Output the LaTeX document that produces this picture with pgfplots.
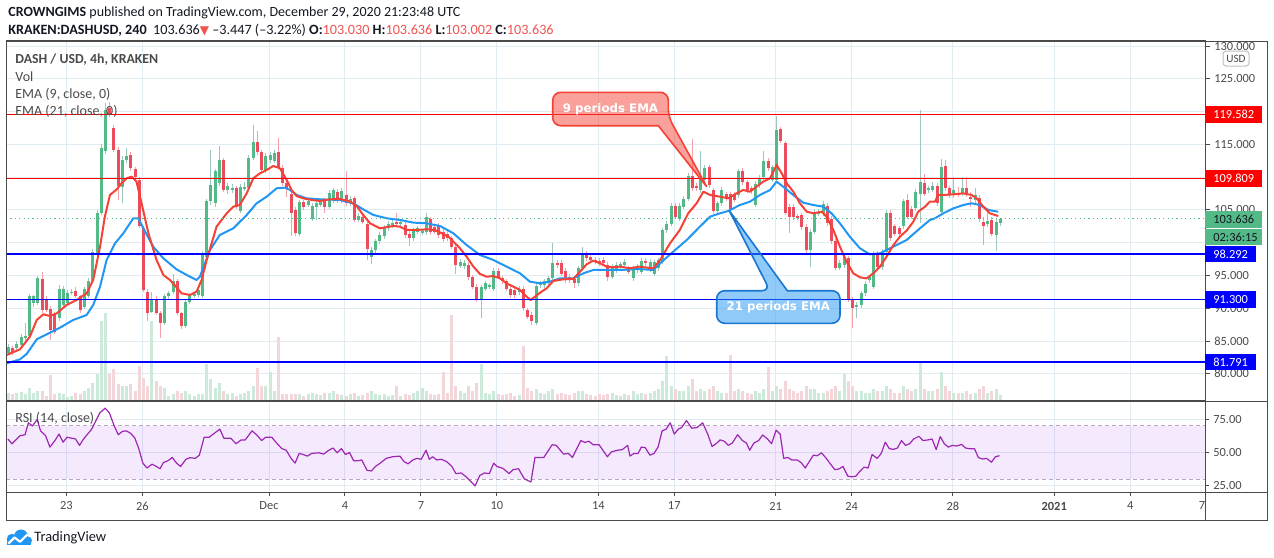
\documentclass[border=0pt]{standalone}
\usepackage{pgfplots}
\pgfplotsset{compat=1.18}
\usepackage{pgfplotstable}
\usepackage{fontspec}
\setmainfont{Carlito}
\newfontfamily\dvs{DejaVu Sans}

\definecolor{upc}{HTML}{53B987}
\definecolor{dnc}{HTML}{EB4D5C}
\definecolor{upw}{HTML}{9CC7BF}
\definecolor{dnw}{HTML}{F2A1A9}
\definecolor{volup}{HTML}{CDE9DA}
\definecolor{voldn}{HTML}{F3D6D9}
\definecolor{emared}{HTML}{F44336}
\definecolor{emablue}{HTML}{2196F3}
\definecolor{gridc}{HTML}{E1ECF2}
\definecolor{framec}{HTML}{4A4A4A}
\definecolor{txtc}{HTML}{4A4A4A}
\definecolor{headc}{HTML}{131722}
\definecolor{valred}{HTML}{EF5350}
\definecolor{rsic}{HTML}{9C27B0}
\definecolor{rsibase}{HTML}{9B27F5}
\definecolor{rsidash}{HTML}{B9A6BF}
\definecolor{tvblue}{HTML}{2196F3}
\definecolor{calblue}{HTML}{1976D2}
\definecolor{lvlred}{HTML}{FF0000}
\definecolor{lvlblue}{HTML}{0000FF}

\newcommand{\sz}[1]{\fontsize{#1}{#1}\selectfont}

% 4h candles, i = candle index (x = i/6 - 10.29 days from Dec 1), v = volume bar height
\pgfplotstableread{
i o h l c v
0 83.1 84.5 82.8 84.1 8
1 83.9 84.2 82.8 83.1 7
2 83.9 85.0 83.6 84.6 8
3 84.4 86.0 84.2 85.6 9
4 85.6 87.8 85.0 85.7 7
5 85.7 92.2 85.4 91.8 13
6 90.8 92.0 90.2 91.8 8
7 90.8 95.0 90.5 94.6 10
8 94.5 95.5 89.3 89.7 10
9 91.4 91.8 89.4 89.7 5
10 89.9 90.3 85.2 86.7 26
11 89.0 89.4 86.0 86.4 7
12 88.5 93.5 88.0 92.9 8
13 90.5 93.4 90.2 93.0 7
14 90.8 92.8 90.5 92.4 4
15 92.4 92.9 92.0 92.5 5
16 92.6 93.3 91.6 91.9 8
17 91.8 92.0 89.2 89.7 7
18 90.2 93.3 89.9 92.9 10
19 91.8 94.6 91.5 94.1 13
20 94.1 99.0 93.8 98.6 18
21 98.1 105.0 97.8 104.5 27
22 104.5 115.0 104.2 114.5 80
23 114.0 121.3 113.5 120.3 88
24 120.5 121.5 119.2 119.5 27
25 117.5 118.0 113.8 114.2 32
26 114.2 114.6 106.5 108.6 17
27 108.5 113.2 106.0 112.6 15
28 112.6 114.5 112.2 113.2 15
29 113.4 113.8 111.0 111.4 17
30 111.2 111.6 109.8 110.1 10
31 109.6 110.0 102.2 102.5 35
32 102.2 102.6 92.5 92.8 23
33 92.5 92.9 88.0 89.2 15
34 89.5 92.5 89.2 91.3 80
35 91.4 91.8 88.9 89.2 20
36 89.2 89.6 85.5 87.8 15
37 87.8 92.2 87.4 91.8 13
38 91.8 92.7 91.4 92.4 5
39 92.5 95.3 92.2 94.2 7
40 94.1 94.5 88.9 89.2 10
41 89.2 89.5 86.9 87.3 8
42 87.3 91.4 87.0 91.0 10
43 90.9 92.4 90.6 92.0 7
44 91.9 92.4 91.6 92.1 5
45 92.0 93.1 91.7 92.8 7
46 91.9 98.8 91.6 98.4 7
47 97.9 106.7 97.6 106.3 37
48 106.3 114.2 105.8 108.8 22
49 106.0 111.3 105.5 110.9 13
50 109.1 114.8 108.7 112.7 18
51 112.6 113.0 107.7 108.1 10
52 108.0 109.1 107.5 108.7 7
53 108.1 108.9 107.6 108.3 8
54 108.3 108.7 105.1 105.5 5
55 104.9 108.9 104.5 108.5 7
56 108.3 109.3 107.9 108.5 8
57 108.3 113.4 108.0 113.0 10
58 113.0 118.0 112.6 115.4 15
59 115.4 117.0 113.4 113.8 33
60 113.8 114.2 110.7 111.1 15
61 111.1 113.7 110.6 113.3 15
62 112.6 113.8 112.2 113.4 29
63 112.5 114.1 112.1 113.7 10
64 113.9 116.0 111.2 111.6 64
65 111.4 111.8 108.7 109.1 7
66 109.1 109.5 107.0 108.3 7
67 107.5 107.9 101.0 104.5 7
68 105.0 105.4 101.1 101.5 7
69 101.4 106.6 101.0 106.2 7
70 106.2 106.6 105.0 105.4 5
71 105.8 106.7 105.4 106.3 7
72 103.7 106.0 103.3 105.6 8
73 105.5 106.4 103.5 106.0 7
74 105.8 106.7 105.4 106.3 6
75 106.5 106.9 104.5 105.5 8
76 105.5 108.0 105.1 107.6 8
77 106.5 108.4 106.1 108.0 10
78 107.8 108.2 106.1 106.5 7
79 106.5 108.3 106.1 107.9 6
80 107.3 110.9 105.6 106.0 5
81 106.0 107.1 105.6 106.7 7
82 106.8 107.2 103.1 103.5 8
83 103.5 104.5 103.1 104.1 5
84 104.0 104.4 102.8 103.2 6
85 102.9 103.3 97.3 99.1 8
86 97.9 99.3 96.8 98.9 10
87 98.9 100.6 98.5 100.2 7
88 100.2 101.6 99.8 101.2 6
89 101.0 102.7 100.6 102.3 7
90 102.2 103.3 101.8 102.9 5
91 102.7 103.4 102.3 103.0 6
92 103.1 104.5 102.5 102.9 15
93 102.9 103.5 102.5 103.1 5
94 102.7 103.1 100.8 101.2 7
95 101.4 101.8 99.5 100.7 6
96 100.7 102.2 100.3 101.8 8
97 101.7 102.6 101.3 102.2 10
98 101.6 102.1 101.2 101.7 13
99 101.6 104.5 101.2 103.9 10
100 103.6 104.0 101.2 101.6 7
101 102.4 102.8 101.3 101.7 6
102 102.6 103.0 100.8 101.2 7
103 101.7 102.1 100.1 100.5 29
104 101.4 101.8 100.3 100.7 8
105 100.7 101.1 99.0 99.4 86
106 99.4 99.8 95.3 96.6 15
107 96.5 97.5 96.1 97.1 10
108 96.4 97.3 96.0 96.9 8
109 96.6 97.0 94.3 94.7 15
110 94.7 95.1 92.9 93.3 10
111 93.3 93.7 90.9 91.3 18
112 91.2 93.6 88.5 93.2 37
113 93.0 94.2 92.6 93.8 8
114 93.3 93.9 92.9 93.5 7
115 93.0 96.1 92.6 95.7 10
116 95.7 96.1 94.4 94.8 7
117 94.6 95.0 93.7 94.1 6
118 94.1 94.5 92.6 93.0 7
119 93.0 93.4 91.6 92.0 8
120 92.8 93.2 91.6 92.0 5
121 92.5 93.4 92.1 93.0 6
122 93.0 93.4 89.6 90.0 55
123 89.7 90.1 88.3 88.7 13
124 89.0 89.4 87.5 88.0 10
125 87.8 93.8 87.4 93.4 12
126 93.5 94.2 93.1 93.8 8
127 93.5 94.5 93.1 94.1 7
128 93.8 95.0 93.4 94.6 10
129 94.6 100.0 94.2 96.9 12
130 96.9 97.3 96.2 96.6 7
131 96.9 97.3 94.9 95.3 8
132 95.7 96.1 93.9 94.3 7
133 94.8 95.2 93.9 94.3 6
134 94.5 94.9 93.1 93.8 8
135 93.8 96.5 93.4 96.1 10
136 96.1 99.4 95.7 98.4 10
137 98.4 98.8 97.2 97.6 7
138 97.8 98.2 97.0 97.4 6
139 97.4 97.8 96.7 97.1 5
140 97.2 97.6 96.5 96.9 7
141 97.4 97.8 96.5 96.9 6
142 96.6 97.0 94.1 94.8 7
143 94.8 96.8 94.4 96.4 8
144 95.8 97.0 95.4 96.6 6
145 96.4 97.1 96.0 96.7 5
146 96.6 97.5 96.2 97.1 7
147 96.1 96.5 95.2 95.6 6
148 94.6 96.5 94.2 96.1 10
149 95.8 96.8 95.4 96.4 7
150 95.6 97.6 95.2 97.2 8
151 97.2 97.6 96.5 96.9 7
152 95.9 97.5 95.5 97.1 8
153 95.3 97.4 94.9 97.0 10
154 96.1 97.7 95.7 97.3 12
155 97.1 102.3 96.7 101.9 20
156 101.9 103.3 101.5 102.9 45
157 102.9 106.0 102.5 105.6 15
158 105.6 106.0 103.6 104.0 12
159 103.7 106.0 103.3 105.6 10
160 105.5 107.1 105.1 106.7 10
161 106.7 110.6 106.3 110.2 15
162 110.2 115.8 107.9 108.3 22
163 108.7 109.1 107.9 108.3 10
164 108.0 114.0 107.6 110.1 12
165 109.6 111.8 109.2 111.4 10
166 111.5 111.9 108.4 108.8 12
167 108.0 108.4 104.4 104.8 15
168 104.8 106.4 104.4 106.0 10
169 106.0 108.5 105.6 108.1 8
170 107.4 107.8 106.3 106.7 8
171 107.4 107.8 104.8 105.2 46
172 107.3 107.7 106.2 106.6 10
173 107.3 111.3 106.9 110.9 12
174 111.0 111.4 108.8 109.2 10
175 109.2 109.6 107.6 108.0 8
176 108.3 108.7 107.5 107.9 7
177 105.8 109.4 105.4 109.0 10
178 108.8 110.3 108.4 109.9 8
179 110.0 114.0 109.6 112.5 12
180 112.5 112.9 111.0 111.4 34
181 109.6 111.9 109.2 111.5 10
182 109.6 119.3 109.2 117.2 15
183 117.3 117.7 115.2 115.6 12
184 115.2 115.6 104.2 104.6 20
185 105.5 105.9 101.5 104.0 12
186 105.5 105.9 103.5 103.9 10
187 104.0 104.4 103.5 103.9 8
188 104.2 104.6 102.0 102.4 10
189 102.4 102.8 98.5 98.9 15
190 98.9 102.1 96.3 101.7 12
191 101.7 105.1 101.3 104.7 12
192 104.5 105.1 104.1 104.7 8
193 104.5 106.3 104.1 105.9 8
194 105.6 106.0 102.6 103.0 10
195 103.7 104.1 99.8 100.2 12
196 100.2 100.6 95.8 96.2 15
197 96.2 97.4 95.8 96.95 10
198 96.6 98.2 96.2 97.8 27
199 97.6 98.0 90.9 91.3 20
200 91.3 91.7 87.0 90.0 15
201 90.2 90.9 88.5 90.5 10
202 90.5 92.7 90.1 92.3 10
203 92.3 94.1 91.9 93.7 8
204 94.3 95.1 93.9 94.7 8
205 93.3 98.8 92.9 98.4 12
206 98.4 98.8 95.9 96.3 10
207 96.3 99.0 95.9 98.6 10
208 98.6 105.0 98.2 104.6 15
209 104.6 105.0 100.3 100.7 12
210 102.5 102.9 101.0 101.4 8
211 102.2 102.6 100.9 101.3 8
212 102.5 106.7 102.1 106.3 15
213 106.5 107.5 103.6 104.0 12
214 105.2 105.6 103.6 104.0 10
215 105.3 108.2 104.9 107.8 12
216 107.5 120.2 103.0 109.3 38
217 109.1 110.5 107.1 107.5 12
218 108.0 108.7 107.6 108.3 10
219 108.1 109.3 107.7 108.7 10
220 108.7 109.1 105.6 106.0 12
221 104.7 112.8 104.3 111.5 29
222 111.7 112.6 107.9 108.3 15
223 108.3 108.7 106.9 107.3 10
224 107.3 110.0 106.9 108.1 8
225 107.6 108.5 107.0 107.3 8
226 107.5 110.0 107.1 108.4 8
227 108.4 110.0 107.0 107.3 10
228 107.0 107.8 105.5 106.8 7
229 106.5 108.4 106.1 107.3 8
230 106.9 107.3 103.2 103.6 12
231 103.2 104.0 99.6 102.6 15
232 102.8 104.7 102.4 103.3 8
233 103.5 103.9 101.0 101.4 10
234 101.2 103.6 98.8 103.2 12
235 103.0 103.8 102.6 103.6 6
}\candles

\pgfplotsset{
  up only/.style={restrict expr to domain={\thisrow{c}-\thisrow{o}}{0:1000}},
  down only/.style={restrict expr to domain={\thisrow{c}-\thisrow{o}}{-1000:-0.001}},
  tvaxis/.style={
    scale only axis, width=599.5pt, anchor=south west,
    xmin=-10.383, xmax=36.953,
    axis line style={draw=framec, line width=0.5pt},
    grid=major, major grid style={draw=gridc, line width=0.5pt},
    xtick={-8,-5,0,3,6,9,13,16,20,23,27,31,34},
    ytick pos=right, yticklabel pos=right,
    tick align=outside, major tick length=2.5pt,
    tick style={draw=framec, line width=0.5pt},
    /pgf/number format/assume math mode=true,
    yticklabel style={font=\sz{6.2}, text=txtc, anchor=west, inner sep=0pt, xshift=2pt},
  },
}

\begin{document}
\begin{tikzpicture}
\useasboundingbox (0,0) rectangle (637pt,-278.5pt);

% ---------- price panel ----------
\begin{axis}[tvaxis, at={(3pt,-200.5pt)}, height=180pt,
  ymin=75.84, ymax=130.8, ytick={80,85,...,130},
  yticklabels={80.000,85.000,90.000,95.000,,105.000,,115.000,,125.000,130.000},
  xticklabel=\empty, xtick style={draw=none}]

% volume
\addplot [ycomb, draw=volup, line width=1.5pt, up only, forget plot]
  table [x expr=\thisrow{i}/6-10.29, y expr=75.84+\thisrow{v}/6.55] {\candles};
\addplot [ycomb, draw=voldn, line width=1.5pt, down only, forget plot]
  table [x expr=\thisrow{i}/6-10.29, y expr=75.84+\thisrow{v}/6.55] {\candles};

% wicks
\addplot [draw=none, mark=none, up only, forget plot,
  error bars/.cd, y dir=both, y explicit, error mark=none,
  error bar style={draw=upw, line width=0.5pt}]
  table [x expr=\thisrow{i}/6-10.29, y expr=(\thisrow{h}+\thisrow{l})/2,
         y error expr=(\thisrow{h}-\thisrow{l})/2] {\candles};
\addplot [draw=none, mark=none, down only, forget plot,
  error bars/.cd, y dir=both, y explicit, error mark=none,
  error bar style={draw=dnw, line width=0.5pt}]
  table [x expr=\thisrow{i}/6-10.29, y expr=(\thisrow{h}+\thisrow{l})/2,
         y error expr=(\thisrow{h}-\thisrow{l})/2] {\candles};

% bodies
\addplot [draw=none, mark=none, up only, forget plot,
  error bars/.cd, y dir=both, y explicit, error mark=none,
  error bar style={draw=upc, line width=1.5pt}]
  table [x expr=\thisrow{i}/6-10.29, y expr=(\thisrow{o}+\thisrow{c})/2,
         y error expr={max(abs(\thisrow{c}-\thisrow{o})/2,0.08)}] {\candles};
\addplot [draw=none, mark=none, down only, forget plot,
  error bars/.cd, y dir=both, y explicit, error mark=none,
  error bar style={draw=dnc, line width=1.5pt}]
  table [x expr=\thisrow{i}/6-10.29, y expr=(\thisrow{o}+\thisrow{c})/2,
         y error expr={max(abs(\thisrow{c}-\thisrow{o})/2,0.08)}] {\candles};

% EMA 21
\addplot [emablue, line width=1pt, line join=round] coordinates {
(-10.36,81.59) (-9.83,82.20) (-9.57,83.01) (-9.17,85.25) (-8.65,86.27) (-8.25,87.04)
(-7.73,88.21) (-7.20,88.97) (-6.94,90.50) (-6.67,93.30) (-6.41,97.37) (-6.08,99.91)
(-5.75,101.44) (-5.36,103.73) (-5.16,103.73) (-4.96,102.20) (-4.57,99.40) (-4.17,97.62)
(-3.65,95.94) (-3.25,95.08) (-2.86,94.31) (-2.73,94.82) (-2.33,98.90) (-1.94,101.19)
(-1.41,102.20) (-0.88,104.24) (-0.49,106.02) (-0.09,107.04) (0.30,108.31) (0.63,108.41)
(0.83,108.06) (1.09,107.29) (1.49,106.78) (2.01,106.63) (2.80,106.53) (3.33,106.02)
(3.72,105.10) (4.12,104.24) (4.65,103.73) (5.17,103.48) (5.70,103.07) (6.22,102.97)
(6.75,102.56) (7.28,101.44) (7.80,99.66) (8.33,98.13) (8.86,97.37) (9.38,96.35)
(9.91,95.33) (10.30,94.06) (10.70,93.81) (11.09,94.06) (11.49,94.57) (12.01,94.57)
(12.41,95.33) (12.80,95.84) (13.20,95.84) (13.86,95.84) (14.62,95.99) (15.17,95.84)
(15.44,96.85) (15.96,98.64) (16.49,100.42) (17.01,102.45) (17.41,103.98) (17.80,104.49)
(18.13,104.85) (18.59,105.76) (18.99,106.27) (19.38,107.29) (19.78,108.05) (20.04,109.33)
(20.30,108.56) (20.70,107.29) (21.09,106.12) (21.49,105.76) (21.88,105.51) (22.21,104.49)
(22.54,102.96) (22.93,100.93) (23.33,99.15) (23.72,98.23) (24.12,98.38) (24.65,99.40)
(25.17,100.42) (25.70,102.20) (26.09,103.47) (26.29,103.73) (26.62,104.49) (27.02,105.25)
(27.41,105.76) (27.74,106.02) (28.07,105.76) (28.40,105.00) (28.79,104.74)};

% EMA 9
\addplot [emared, line width=1pt, line join=round] coordinates {
(-10.36,82.86) (-9.83,83.73) (-9.44,85.66) (-9.17,88.21) (-8.91,89.07) (-8.65,88.82)
(-8.38,89.22) (-7.99,90.50) (-7.59,91.26) (-7.20,92.28) (-6.94,94.31) (-6.67,99.40)
(-6.48,103.99) (-6.28,107.29) (-6.01,108.16) (-5.82,109.08) (-5.62,109.84) (-5.42,110.09)
(-5.23,109.33) (-5.03,106.02) (-4.76,101.44) (-4.44,97.37) (-4.17,95.08) (-3.91,94.31)
(-3.65,93.19) (-3.45,92.28) (-3.12,92.02) (-2.86,92.53) (-2.66,94.31) (-2.46,97.37)
(-2.07,102.46) (-1.67,104.49) (-1.41,105.51) (-1.15,105.77) (-0.88,107.55) (-0.62,109.84)
(-0.36,110.60) (-0.09,111.11) (0.17,111.72) (0.43,111.37) (0.70,109.58) (0.89,108.06)
(1.09,107.14) (1.35,106.78) (1.68,106.53) (2.01,106.38) (2.41,106.63) (2.80,106.68)
(3.20,106.28) (3.46,105.61) (3.72,104.24) (3.99,102.97) (4.38,102.20) (4.91,102.56)
(5.17,102.46) (5.43,101.95) (5.83,101.95) (6.22,102.05) (6.55,101.95) (6.82,101.44)
(7.08,100.93) (7.28,100.17) (7.54,99.15) (7.80,97.88) (8.07,96.35) (8.33,95.23)
(8.59,94.82) (8.86,94.92) (9.12,94.57) (9.38,93.80) (9.65,93.30) (9.91,92.79)
(10.17,91.77) (10.33,91.26) (10.50,91.77) (10.70,92.38) (10.96,93.04) (11.22,94.16)
(11.62,94.42) (12.01,94.47) (12.28,95.59) (12.54,96.71) (12.80,97.27) (13.07,96.86)
(13.33,96.35) (13.59,96.25) (13.86,96.35) (14.25,96.10) (14.62,96.35) (15.17,96.09)
(15.44,97.36) (15.83,99.91) (16.22,101.95) (16.55,104.49) (16.88,106.02) (17.15,107.80)
(17.41,107.29) (17.80,107.04) (18.13,106.78) (18.46,107.54) (18.72,108.05) (18.99,107.80)
(19.25,108.56) (19.51,109.33) (19.78,109.83) (20.04,111.87) (20.24,110.60) (20.44,109.07)
(20.70,107.80) (20.96,106.02) (21.23,104.74) (21.49,104.49) (21.82,104.74) (22.01,103.98)
(22.28,101.95) (22.54,99.40) (22.80,97.11) (23.07,95.33) (23.33,94.72) (23.59,94.56)
(23.86,95.33) (24.12,96.35) (24.38,97.87) (24.65,99.65) (24.91,100.93) (25.17,101.84)
(25.44,103.22) (25.63,104.74) (25.90,105.51) (26.09,106.27) (26.29,106.27) (26.42,107.29)
(26.62,107.29) (27.02,107.39) (27.41,107.54) (27.74,107.29) (27.94,106.78) (28.20,105.51)
(28.46,104.49) (28.79,104.08)};

% last price and horizontal levels
\addplot [upc, line width=0.5pt, dash pattern=on 0.6pt off 1.6pt, forget plot]
  coordinates {(-10.383,103.636) (36.953,103.636)};
\addplot [lvlred, line width=0.7pt, forget plot] coordinates {(-10.383,119.582) (36.953,119.582)};
\addplot [lvlred, line width=0.7pt, forget plot] coordinates {(-10.383,109.809) (36.953,109.809)};
\addplot [lvlblue, line width=0.7pt, forget plot] coordinates {(-10.383,98.292) (36.953,98.292)};
\addplot [lvlblue, line width=0.7pt, forget plot] coordinates {(-10.383,91.300) (36.953,91.300)};
\addplot [lvlblue, line width=0.7pt, forget plot] coordinates {(-10.383,81.791) (36.953,81.791)};
\end{axis}

% ---------- RSI panel ----------
\begin{axis}[tvaxis, at={(3pt,-246pt)}, height=45.5pt,
  ymin=20.26, ymax=88.8, ytick={25,50,75},
  yticklabel={\pgfmathprintnumber[fixed,fixed zerofill,precision=2]{\tick}},
  xtick pos=bottom,
  xticklabels={23,26,Dec,4,7,10,14,17,21,24,28,\textbf{2021},4},
  xticklabel style={font=\sz{6.2}, text=txtc, anchor=center, yshift=-5pt},
  major tick length=2pt]
\fill [rsibase, fill opacity=0.1] (axis cs:-10.383,30) rectangle (axis cs:36.953,70);
\addplot [rsidash, line width=0.5pt, dash pattern=on 2pt off 1.5pt, forget plot]
  coordinates {(-10.383,70) (36.953,70)};
\addplot [rsidash, line width=0.5pt, dash pattern=on 2pt off 1.5pt, forget plot]
  coordinates {(-10.383,30) (36.953,30)};
\addplot [rsic, line width=0.6pt, line join=round] coordinates {
(-10.31,60.2) (-10.15,56.6) (-9.83,62.7) (-9.63,63.4) (-9.50,72.4) (-9.34,70.0) (-9.15,74.9)
(-9.02,66.3) (-8.82,62.7) (-8.65,54.1) (-8.45,59.0) (-8.29,63.9) (-8.13,57.8) (-7.97,61.5)
(-7.64,60.2) (-7.48,55.4) (-7.32,60.2) (-7.16,63.9) (-7.00,67.6) (-6.84,73.7) (-6.68,79.8)
(-6.47,83.4) (-6.30,79.8) (-6.11,70.0) (-5.95,63.4) (-5.79,65.9) (-5.63,66.3) (-5.46,64.4)
(-5.30,61.0) (-5.14,52.9) (-4.98,42.0) (-4.82,38.3) (-4.62,41.2) (-4.49,40.0) (-4.30,37.8)
(-4.17,42.4) (-3.98,43.9) (-3.82,46.3) (-3.65,42.0) (-3.49,39.5) (-3.28,44.9) (-3.12,46.1)
(-2.91,45.6) (-2.75,48.0) (-2.56,61.5) (-2.36,61.5) (-2.20,63.9) (-1.94,67.6) (-1.78,60.7)
(-1.51,60.7) (-1.30,56.6) (-1.10,59.5) (-0.94,59.5) (-0.67,66.3) (-0.49,63.4) (-0.29,59.0)
(-0.13,61.5) (0.11,61.5) (0.27,57.8) (0.51,52.9) (0.68,51.7) (0.87,45.6) (1.03,42.0)
(1.19,49.3) (1.35,48.5) (1.52,47.3) (1.68,49.3) (1.97,49.8) (2.16,48.8) (2.32,51.2)
(2.53,53.4) (2.69,49.8) (2.86,52.9) (3.02,48.5) (3.18,50.0) (3.34,43.9) (3.50,43.7)
(3.66,44.4) (3.87,36.6) (4.04,36.1) (4.20,39.5) (4.39,42.0) (4.63,45.6) (4.88,46.8)
(5.17,47.3) (5.33,43.2) (5.49,41.5) (5.68,44.4) (5.84,45.6) (6.01,44.9) (6.20,51.7)
(6.33,44.9) (6.46,46.8) (6.62,44.4) (6.81,44.9) (7.01,43.2) (7.22,39.5) (7.38,34.1)
(7.59,34.6) (7.75,32.2) (7.95,28.5) (8.14,24.9) (8.32,32.7) (8.51,34.6) (8.70,34.1)
(8.87,42.0) (9.00,39.5) (9.24,38.0) (9.48,34.1) (9.64,37.1) (9.85,37.8) (10.08,30.2)
(10.34,27.8) (10.50,46.3) (10.85,46.3) (11.18,55.9) (11.34,55.4) (11.63,48.8) (11.82,49.3)
(11.98,46.3) (12.31,59.0) (12.47,57.6) (12.63,58.5) (12.79,55.9) (13.03,55.9) (13.36,46.8)
(13.52,50.5) (13.76,51.7) (13.95,52.2) (14.16,55.4) (14.25,47.3) (14.41,49.3) (14.57,49.3)
(14.70,54.1) (14.85,53.7) (15.04,48.0) (15.20,49.3) (15.36,54.1) (15.52,66.3) (15.68,67.6)
(15.84,72.4) (16.00,63.9) (16.16,67.6) (16.29,68.8) (16.48,74.1) (16.69,68.3) (16.90,68.8)
(17.12,72.4) (17.33,63.4) (17.49,54.6) (17.65,56.6) (17.81,59.5) (17.97,58.5) (18.13,55.4)
(18.29,57.1) (18.50,63.4) (18.69,59.0) (18.85,57.1) (18.98,51.7) (19.14,57.1) (19.33,59.0)
(19.49,63.2) (19.68,60.2) (19.84,56.6) (20.02,66.8) (20.18,63.9) (20.32,45.6) (20.48,46.3)
(20.64,44.4) (20.85,44.4) (21.01,42.4) (21.17,38.3) (21.33,43.2) (21.49,48.0) (21.65,47.6)
(21.81,49.8) (22.00,45.6) (22.16,41.5) (22.34,37.1) (22.50,37.6) (22.66,39.5) (22.85,32.2)
(23.01,31.7) (23.17,32.2) (23.33,35.9) (23.49,39.0) (23.65,38.3) (23.81,48.5) (24.01,45.6)
(24.17,49.3) (24.33,57.8) (24.49,52.9) (24.65,52.4) (24.81,53.4) (24.97,59.0) (25.13,55.4)
(25.29,56.6) (25.45,60.2) (25.66,62.2) (25.82,59.0) (26.02,59.5) (26.18,60.2) (26.34,52.2)
(26.50,62.0) (26.66,56.6) (26.82,54.1) (26.98,55.4) (27.15,54.9) (27.34,56.1) (27.50,53.4)
(27.66,52.9) (27.85,52.9) (28.01,46.1) (28.17,45.1) (28.33,45.6) (28.52,42.7) (28.68,46.8)
(28.84,47.6)};
\end{axis}

% ---------- frame, labels, annotations (pixel coordinates, y down) ----------
\begin{scope}[x=0.5pt, y=-0.5pt]
\draw [framec, line width=0.5pt] (6,41) rectangle (1267,520);
\draw [framec, line width=0.5pt] (6,401) -- (1267,401) (6,492) -- (1267,492) (1205,41) -- (1205,520);

% header
\node [anchor=west, inner sep=0pt, font=\sz{7}, text=headc] at (8,13)
  {\textbf{CROWNGIMS} published on TradingView.com, December 29, 2020 21:23:48 UTC};
\node [anchor=west, inner sep=0pt, font=\sz{7.1}, text=headc] at (8,30)
  {\textbf{KRAKEN:DASHUSD, 240}\ \ 103.636{\dvs\sz{6}\textcolor{valred}{▼}}\ –3.447 (–3.22\%)\ \textbf{O:}\textcolor{valred}{103.030}\ \textbf{H:}\textcolor{valred}{103.636}\ \textbf{L:}\textcolor{valred}{103.002}\ \textbf{C:}\textcolor{valred}{103.636}};

% panel legend
\node [anchor=west, inner sep=0pt, font=\bfseries\sz{6.9}, text=txtc] at (15,60) {DASH / USD, 4h, KRAKEN};
\node [anchor=west, inner sep=0pt, font=\sz{7}, text=txtc] at (15,77) {Vol};
\node [anchor=west, inner sep=0pt, font=\sz{7}, text=txtc] at (15,94) {EMA (9, close, 0)};
\node [anchor=west, inner sep=0pt, font=\sz{7}, text=txtc] at (15,111) {EMA (21, close, 0)};
\node [anchor=west, inner sep=0pt, font=\sz{7}, text=txtc] at (15,418) {RSI (14, close)};

% price scale
\draw [draw=gridc!60!gray, fill=white, rounded corners=1.5pt, line width=0.5pt] (1223,51) rectangle (1249,66);
\node [font=\sz{5.6}, text=txtc] at (1236,58.5) {USD};
\fill [lvlred] (1205,106) rectangle (1262,122.7);
\node [anchor=west, inner sep=0pt, font=\sz{6.2}, text=white] at (1213,114.4) {119.582};
\fill [lvlred] (1205,170.2) rectangle (1262,186.8);
\node [anchor=west, inner sep=0pt, font=\sz{6.2}, text=white] at (1213,178.5) {109.809};
\fill [upc] (1205,210.6) rectangle (1262,227.6);
\node [anchor=west, inner sep=0pt, font=\sz{6.2}, text=headc] at (1213,219.1) {103.636};
\fill [upc] (1205,229) rectangle (1262,245.4);
\node [anchor=west, inner sep=0pt, font=\sz{6.2}, text=headc] at (1213,237.2) {02:36:15};
\fill [lvlblue] (1205,246) rectangle (1256,262.3);
\node [anchor=west, inner sep=0pt, font=\sz{6.2}, text=white] at (1213,254.2) {98.292};
\fill [lvlblue] (1205,291.4) rectangle (1256,308);
\node [anchor=west, inner sep=0pt, font=\sz{6.2}, text=white] at (1213,299.7) {91.300};
\fill [lvlblue] (1205,353.7) rectangle (1256,370.3);
\node [anchor=west, inner sep=0pt, font=\sz{6.2}, text=white] at (1213,362) {81.791};
\node [font=\sz{6.2}, text=txtc] at (1202,506) {7};

% callouts
\filldraw [draw=emared, line width=0.8pt, fill=emared, fill opacity=0.5]
  (600,92.3) [rounded corners=4pt] -- (668.3,92.3) -- (668.3,116.7) [sharp corners]
  -- (706.7,186.7) -- (658.3,125.7) [rounded corners=4pt] -- (552.7,125.7) -- (552.7,92.3) -- cycle;
\node [font=\dvs\bfseries\sz{5.9}, text=white] at (610.5,109) {9 periods EMA};
\filldraw [draw=calblue, line width=0.8pt, fill=emablue, fill opacity=0.5]
  (716.7,307) [rounded corners=4pt] -- (716.7,290.7) -- (770,290.7) [sharp corners]
  -- (729.3,210.7) -- (787.3,290.7) [rounded corners=4pt] -- (840,290.7) -- (840,323.3)
  -- (716.7,323.3) -- cycle;
\node [font=\dvs\bfseries\sz{5.9}, text=white] at (778.3,307) {21 periods EMA};

% TradingView logo
\fill [tvblue] (12,539) circle (5.2);
\fill [tvblue] (21,536.5) circle (7);
\fill [tvblue] (28,540.5) circle (4);
\fill [tvblue] (7,539) rectangle (31,544.5);
\draw [white, line width=1.1pt, line join=round] (8.5,543.5) -- (14.5,537.5) -- (20,541.8) -- (27.5,534.5);
\node [anchor=west, inner sep=0pt, font=\sz{7.2}, text=headc] at (34,538) {TradingView};
\end{scope}
\end{tikzpicture}
\end{document}
